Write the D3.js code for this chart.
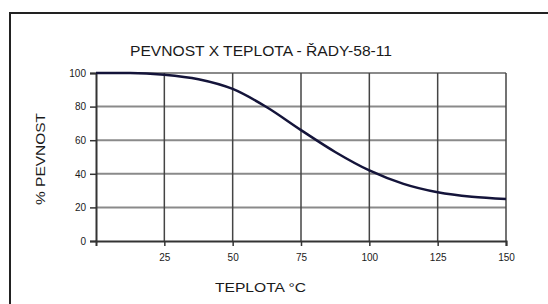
<!DOCTYPE html>
<html>
<head>
<meta charset="utf-8">
<script src="https://cdn.jsdelivr.net/npm/d3@7"></script>
<style>
  body { margin: 0; background: #fff; }
  text { font-family: "Liberation Sans", Arial, sans-serif; fill: #1a1a1a; }
</style>
</head>
<body>
<div id="chart"></div>
<script>
var teploty = [0, 12.5, 25, 37.5, 50, 62.5, 75, 87.5, 100, 112.5, 125, 137.5, 150];
var pevnost = [100, 100, 99, 96.3, 90.5, 79.6, 66, 53, 42, 34, 29, 26.3, 25];
var xTicks = [25, 50, 75, 100, 125, 150];
var yTicks = [0, 20, 40, 60, 80, 100];

var margin = { top: 73, right: 42, bottom: 63, left: 96 },
  width = 548 - margin.left - margin.right,
  height = 304 - margin.top - margin.bottom;

var root = d3.select("#chart")
  .append("svg")
  .attr("width", 548)
  .attr("height", 304);

// frame around the picture (runs off right and bottom)
root.append("rect")
  .attr("x", 10).attr("y", 13)
  .attr("width", 600).attr("height", 400)
  .attr("fill", "none")
  .attr("stroke", "#222")
  .attr("stroke-width", 2);

var svg = root.append("g")
  .attr("transform", "translate(" + margin.left + "," + margin.top + ")");

var x = d3.scaleLinear().domain([0, 150]).range([0, width]);
var y = d3.scaleLinear().domain([0, 100]).range([height, 0]);

// horizontal grid
svg.append("g")
  .selectAll("line")
  .data(yTicks.filter(function (d) { return d > 0; }))
  .enter()
  .append("line")
  .attr("x1", 0).attr("x2", width)
  .attr("y1", function (d) { return y(d); })
  .attr("y2", function (d) { return y(d); })
  .attr("stroke", "#8a8a8a")
  .attr("stroke-width", 2);

// vertical grid
svg.append("g")
  .selectAll("line")
  .data(xTicks)
  .enter()
  .append("line")
  .attr("x1", function (d) { return x(d); })
  .attr("x2", function (d) { return x(d); })
  .attr("y1", 0).attr("y2", height)
  .attr("stroke", "#444")
  .attr("stroke-width", 1.5);

// axes
var yAxis = svg.append("g")
  .call(d3.axisLeft(y).tickValues(yTicks).tickSize(6).tickPadding(4));
var xAxis = svg.append("g")
  .attr("transform", "translate(0," + height + ")")
  .call(d3.axisBottom(x).tickValues(xTicks).tickSize(5).tickPadding(8));

[xAxis, yAxis].forEach(function (a) {
  a.select(".domain").attr("stroke", "#333").attr("stroke-width", 2);
  a.selectAll(".tick line").attr("stroke", "#333").attr("stroke-width", 1.5);
  a.selectAll(".tick text")
    .style("font-family", "'Liberation Sans', Arial, sans-serif")
    .style("font-size", "10px")
    .attr("fill", "#222");
});

// curve
svg.append("path")
  .datum(teploty.map(function (t, i) { return [t, pevnost[i]]; }))
  .attr("fill", "none")
  .attr("stroke", "#14143a")
  .attr("stroke-width", 2.5)
  .attr("d", d3.line()
    .curve(d3.curveMonotoneX)
    .x(function (d) { return x(d[0]); })
    .y(function (d) { return y(d[1]); }));

// titles
root.append("text")
  .text("PEVNOST X TEPLOTA - ŘADY-58-11")
  .attr("x", 130).attr("y", 56)
  .attr("textLength", 262)
  .attr("lengthAdjust", "spacingAndGlyphs")
  .style("font-size", "14px");

root.append("text")
  .text("TEPLOTA °C")
  .attr("x", 215).attr("y", 292)
  .attr("textLength", 91)
  .attr("lengthAdjust", "spacingAndGlyphs")
  .style("font-size", "13px");

root.append("text")
  .text("% PEVNOST")
  .attr("transform", "translate(45,205) rotate(-90)")
  .attr("textLength", 92)
  .attr("lengthAdjust", "spacingAndGlyphs")
  .style("font-size", "13px");
</script>
</body>
</html>
